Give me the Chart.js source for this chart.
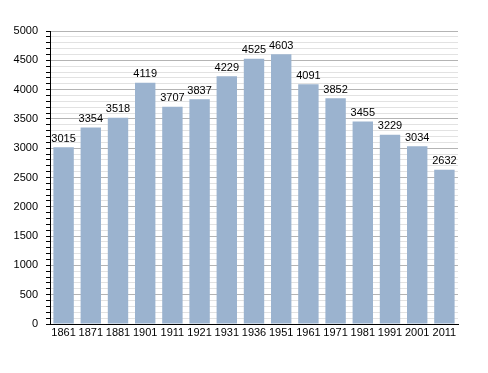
<!DOCTYPE html>
<html><head><meta charset="utf-8">
<script src="https://cdn.jsdelivr.net/npm/chart.js@4"></script>
<style>html,body{margin:0;padding:0;background:#fff}#wrap{width:488px;height:373px}</style>
</head><body><div id="wrap"><canvas id="c" width="488" height="373"></canvas></div>
<script>
const years = ["1861","1871","1881","1901","1911","1921","1931","1936","1951","1961","1971","1981","1991","2001","2011"];
const population = [3015,3354,3518,4119,3707,3837,4229,4525,4603,4091,3852,3455,3229,3034,2632];
const yMin = 0, yMax = 5000, yMajorStep = 500, yMinorStep = 100;

const labelPlugin = {
  id: 'valueLabels',
  afterDatasetsDraw(chart) {
    const ctx = chart.ctx;
    const meta = chart.getDatasetMeta(0);
    ctx.save();
    ctx.font = '11px "Liberation Sans", Arial, sans-serif';
    ctx.fillStyle = '#000';
    ctx.textAlign = 'center';
    ctx.textBaseline = 'bottom';
    meta.data.forEach((bar, i) => {
      ctx.fillText(String(population[i]), bar.x, bar.y - 3);
    });
    ctx.restore();
  }
};

new Chart(document.getElementById('c'), {
  type: 'bar',
  data: { labels: years, datasets: [{ data: population, backgroundColor: '#9bb3cf', borderWidth: 0, barPercentage: 0.75, categoryPercentage: 1 }] },
  options: {
    responsive: false, animation: false,
    layout: { padding: { left: 0, right: 30, top: 31, bottom: 0 } },
    plugins: { legend: { display: false }, tooltip: { enabled: false } },
    scales: {
      x: {
        grid: { display: false, drawTicks: false },
        border: { color: '#000', width: 1 },
        ticks: { color: '#000', font: { family: '"Liberation Sans", Arial, sans-serif', size: 11 }, padding: 2, maxRotation: 0, autoSkip: false },
        afterFit(s) { s.height = 49; }
      },
      y: {
        min: yMin, max: yMax,
        border: { color: '#000', width: 1 },
        grid: {
          color: (c) => (c.tick && c.tick.value % yMajorStep === 0) ? '#b4b4b4' : '#e2e2e2',
          tickColor: '#000', tickLength: 4, lineWidth: 1
        },
        ticks: {
          stepSize: yMinorStep, autoSkip: false, color: '#000',
          font: { family: '"Liberation Sans", Arial, sans-serif', size: 11 },
          padding: 8,
          callback: (v) => (v % yMajorStep === 0 ? String(v) : '')
        },
        afterFit(s) { s.width = 50; }
      }
    }
  },
  plugins: [labelPlugin]
});
</script></body></html>
